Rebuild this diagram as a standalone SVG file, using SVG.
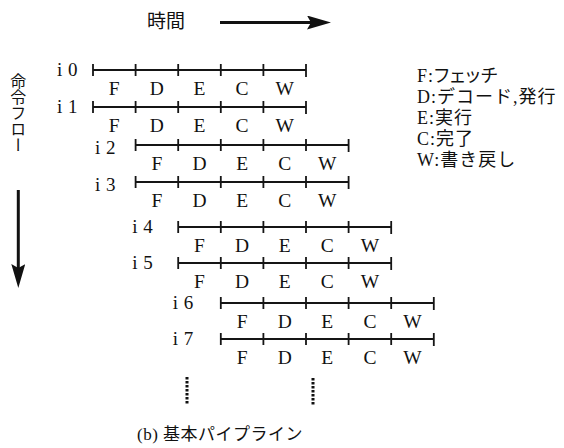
<svg xmlns="http://www.w3.org/2000/svg" width="564" height="448" viewBox="0 0 564 448">
<style>
.bar{stroke:#151515;stroke-width:1.8;fill:none}
.st{font-family:"Liberation Serif","Times New Roman",serif;font-size:19.5px;fill:#111;text-anchor:middle}
.lb{font-family:"Liberation Serif","Times New Roman",serif;font-size:19px;fill:#111}
.lg{font-family:"Liberation Serif","Noto Sans CJK JP",serif;font-size:18px;fill:#111;letter-spacing:1px}
.jp{font-family:"Noto Sans CJK JP","Noto Sans CJK SC",sans-serif;fill:#111}
.ax{stroke:#111;stroke-width:3;fill:none}
.dots{stroke:#111;stroke-width:3;stroke-dasharray:2.4 1.6;fill:none}
</style>
<defs>
<marker id="ah" markerUnits="userSpaceOnUse" markerWidth="24" markerHeight="14" refX="13" refY="7" orient="auto">
<path d="M0,0 L24,7 L0,14 L4,7 Z" fill="#111"/>
</marker>
</defs>
<rect width="564" height="448" fill="#fff"/>

<g id="connectors">
<line class="ax" x1="220" y1="22.5" x2="320" y2="22.5" marker-end="url(#ah)"/>
<line class="ax" x1="18.3" y1="190" x2="18.3" y2="277" marker-end="url(#ah)"/>
</g>

<g id="time-label"><text class="jp" x="147" y="28" font-size="19">時間</text></g>
<g id="flow-label"><text class="jp" x="18.3" y="73" font-size="16" writing-mode="vertical-rl">命令フロー</text></g>

<g id="i0" transform="translate(93,70)">
<path class="bar" d="M0,0H213M0,-6V6M42.6,-6V6M85.2,-6V6M127.8,-6V6M170.4,-6V6M213,-6V7"/>
<text class="lb" x="-36" y="6">i<tspan x="-25">0</tspan></text>
<text class="st" y="25"><tspan x="21.3">F</tspan><tspan x="63.9">D</tspan><tspan x="106.5">E</tspan><tspan x="149.1">C</tspan><tspan x="191.7">W</tspan></text>
</g>
<g id="i1" transform="translate(93,107)">
<path class="bar" d="M0,0H213M0,-6V6M42.6,-6V6M85.2,-6V6M127.8,-6V6M170.4,-6V6M213,-6V7"/>
<text class="lb" x="-36" y="6">i<tspan x="-25">1</tspan></text>
<text class="st" y="25"><tspan x="21.3">F</tspan><tspan x="63.9">D</tspan><tspan x="106.5">E</tspan><tspan x="149.1">C</tspan><tspan x="191.7">W</tspan></text>
</g>
<g id="i2" transform="translate(135.6,145)">
<path class="bar" d="M0,0H213M0,-6V6M42.6,-6V6M85.2,-6V6M127.8,-6V6M170.4,-6V6M213,-6V7"/>
<text class="lb" x="-40.6" y="9">i<tspan x="-29.6">2</tspan></text>
<text class="st" y="25"><tspan x="21.3">F</tspan><tspan x="63.9">D</tspan><tspan x="106.5">E</tspan><tspan x="149.1">C</tspan><tspan x="191.7">W</tspan></text>
</g>
<g id="i3" transform="translate(135.6,182)">
<path class="bar" d="M0,0H213M0,-6V6M42.6,-6V6M85.2,-6V6M127.8,-6V6M170.4,-6V6M213,-6V7"/>
<text class="lb" x="-40.6" y="9">i<tspan x="-29.6">3</tspan></text>
<text class="st" y="25"><tspan x="21.3">F</tspan><tspan x="63.9">D</tspan><tspan x="106.5">E</tspan><tspan x="149.1">C</tspan><tspan x="191.7">W</tspan></text>
</g>
<g id="i4" transform="translate(178.2,227)">
<path class="bar" d="M0,0H213M0,-6V6M42.6,-6V6M85.2,-6V6M127.8,-6V6M170.4,-6V6M213,-6V7"/>
<text class="lb" x="-46" y="6">i<tspan x="-35">4</tspan></text>
<text class="st" y="25"><tspan x="21.3">F</tspan><tspan x="63.9">D</tspan><tspan x="106.5">E</tspan><tspan x="149.1">C</tspan><tspan x="191.7">W</tspan></text>
</g>
<g id="i5" transform="translate(178.2,263)">
<path class="bar" d="M0,0H213M0,-6V6M42.6,-6V6M85.2,-6V6M127.8,-6V6M170.4,-6V6M213,-6V7"/>
<text class="lb" x="-46" y="6">i<tspan x="-35">5</tspan></text>
<text class="st" y="25"><tspan x="21.3">F</tspan><tspan x="63.9">D</tspan><tspan x="106.5">E</tspan><tspan x="149.1">C</tspan><tspan x="191.7">W</tspan></text>
</g>
<g id="i6" transform="translate(220.8,303)">
<path class="bar" d="M0,0H213M0,-6V6M42.6,-6V6M85.2,-6V6M127.8,-6V6M170.4,-6V6M213,-6V7"/>
<text class="lb" x="-48" y="6">i<tspan x="-37">6</tspan></text>
<text class="st" y="25"><tspan x="21.3">F</tspan><tspan x="63.9">D</tspan><tspan x="106.5">E</tspan><tspan x="149.1">C</tspan><tspan x="191.7">W</tspan></text>
</g>
<g id="i7" transform="translate(220.8,339)">
<path class="bar" d="M0,0H213M0,-6V6M42.6,-6V6M85.2,-6V6M127.8,-6V6M170.4,-6V6M213,-6V7"/>
<text class="lb" x="-48" y="6">i<tspan x="-37">7</tspan></text>
<text class="st" y="25"><tspan x="21.3">F</tspan><tspan x="63.9">D</tspan><tspan x="106.5">E</tspan><tspan x="149.1">C</tspan><tspan x="191.7">W</tspan></text>
</g>

<g id="continuation">
<line class="dots" x1="187" y1="377" x2="187" y2="405"/>
<line class="dots" x1="313" y1="378" x2="313" y2="406"/>
</g>

<g id="legend">
<text class="lg" x="417" y="82" style="font-feature-settings:'palt'">F:フェッチ</text>
<text class="lg" x="417" y="103">D:デコード,発行</text>
<text class="lg" x="417" y="124">E:実行</text>
<text class="lg" x="417" y="145">C:完了</text>
<text class="lg" x="417" y="166">W:書き戻し</text>
</g>

<g id="caption"><text class="lg" x="137" y="440" style="font-size:17px;letter-spacing:0.5px">(b) 基本パイプライン</text></g>
</svg>
